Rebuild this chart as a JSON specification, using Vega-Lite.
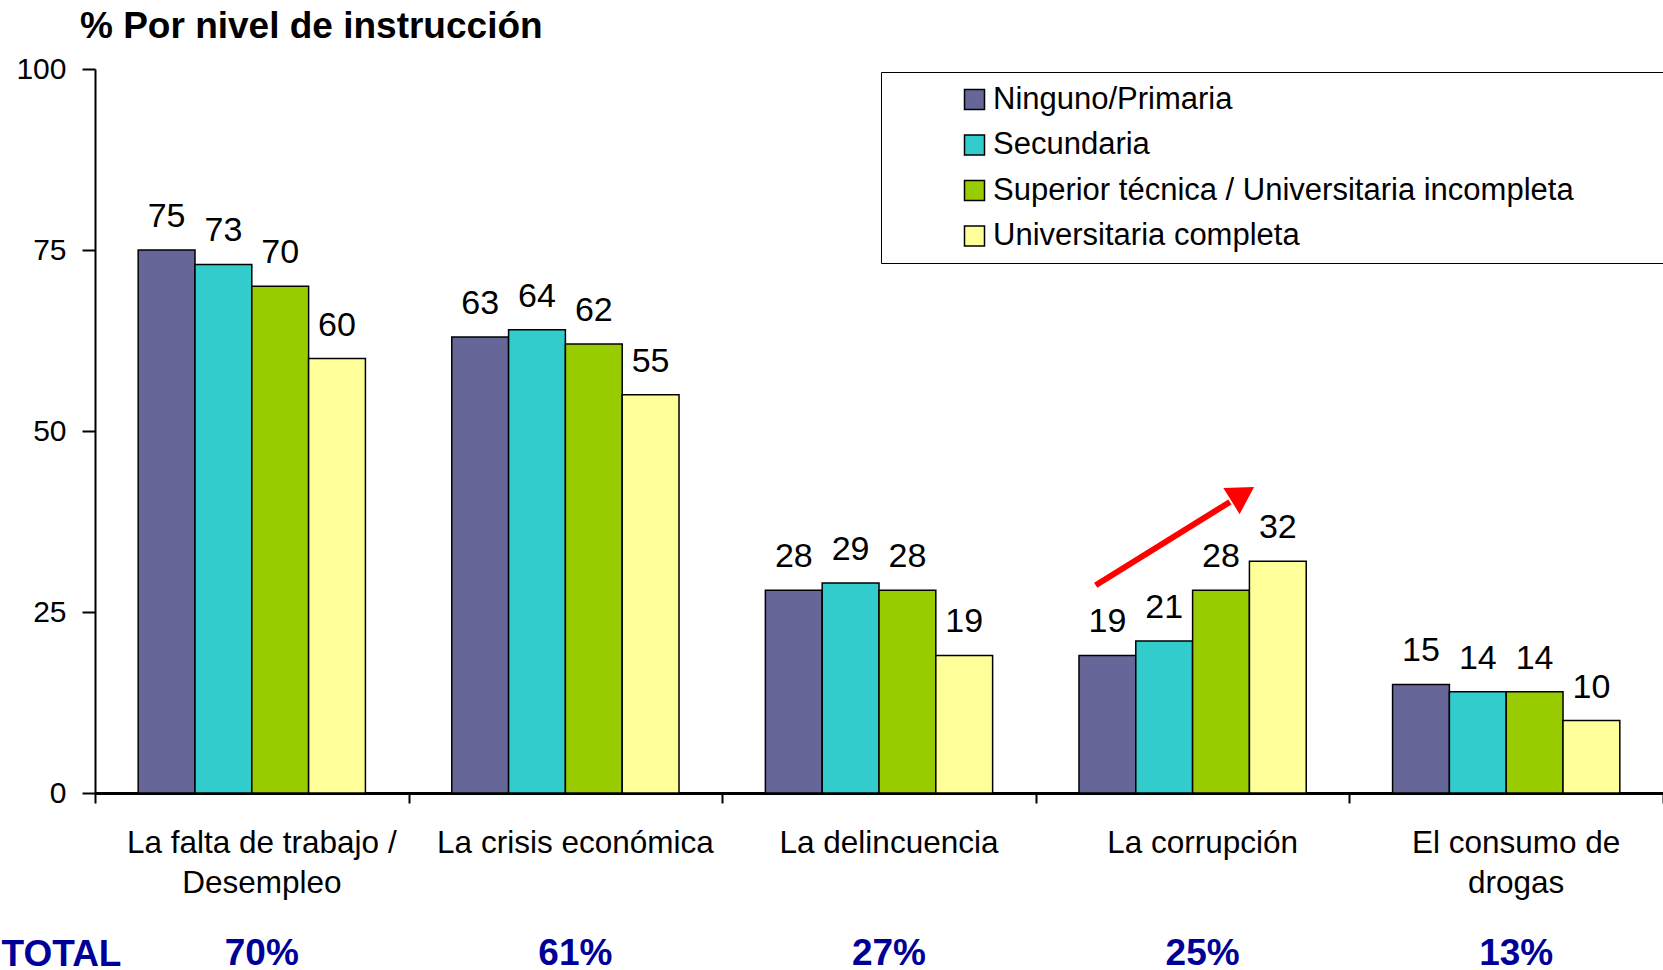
{
  "$schema": "https://vega.github.io/schema/vega-lite/v6.json",
  "width": 1568,
  "height": 724,
  "autosize": "none",
  "padding": {"left": 95, "top": 69, "right": 0, "bottom": 177},
  "background": "white",
  "config": {
    "view": {"stroke": null},
    "font": "Liberation Sans",
    "axis": {"labelFont": "Liberation Sans", "labelColor": "black", "tickColor": "black", "domainColor": "black", "grid": false, "titleFont": "Liberation Sans"},
    "legend": {"labelFont": "Liberation Sans", "titleFont": "Liberation Sans"}
  },
  "datasets": {
    "barras": [
      {"categoria": "La falta de trabajo / Desempleo", "nivel": "Ninguno/Primaria", "valor": 75},
      {"categoria": "La falta de trabajo / Desempleo", "nivel": "Secundaria", "valor": 73},
      {"categoria": "La falta de trabajo / Desempleo", "nivel": "Superior técnica / Universitaria incompleta", "valor": 70},
      {"categoria": "La falta de trabajo / Desempleo", "nivel": "Universitaria completa", "valor": 60},
      {"categoria": "La crisis económica", "nivel": "Ninguno/Primaria", "valor": 63},
      {"categoria": "La crisis económica", "nivel": "Secundaria", "valor": 64},
      {"categoria": "La crisis económica", "nivel": "Superior técnica / Universitaria incompleta", "valor": 62},
      {"categoria": "La crisis económica", "nivel": "Universitaria completa", "valor": 55},
      {"categoria": "La delincuencia", "nivel": "Ninguno/Primaria", "valor": 28},
      {"categoria": "La delincuencia", "nivel": "Secundaria", "valor": 29},
      {"categoria": "La delincuencia", "nivel": "Superior técnica / Universitaria incompleta", "valor": 28},
      {"categoria": "La delincuencia", "nivel": "Universitaria completa", "valor": 19},
      {"categoria": "La corrupción", "nivel": "Ninguno/Primaria", "valor": 19},
      {"categoria": "La corrupción", "nivel": "Secundaria", "valor": 21},
      {"categoria": "La corrupción", "nivel": "Superior técnica / Universitaria incompleta", "valor": 28},
      {"categoria": "La corrupción", "nivel": "Universitaria completa", "valor": 32},
      {"categoria": "El consumo de drogas", "nivel": "Ninguno/Primaria", "valor": 15},
      {"categoria": "El consumo de drogas", "nivel": "Secundaria", "valor": 14},
      {"categoria": "El consumo de drogas", "nivel": "Superior técnica / Universitaria incompleta", "valor": 14},
      {"categoria": "El consumo de drogas", "nivel": "Universitaria completa", "valor": 10}
    ],
    "totales": [
      {"categoria": "La falta de trabajo / Desempleo", "total": "70%"},
      {"categoria": "La crisis económica", "total": "61%"},
      {"categoria": "La delincuencia", "total": "27%"},
      {"categoria": "La corrupción", "total": "25%"},
      {"categoria": "El consumo de drogas", "total": "13%"}
    ],
    "flecha": [
      {"ax": 3.191, "valor": 28.7},
      {"ax": 3.619, "valor": 40.2}
    ],
    "punta": [
      {"ax": 3.66, "valor": 41.3}
    ]
  },
  "layer": [
    {
      "layer": [
        {
          "data": {"name": "barras"},
          "mark": {"type": "bar", "stroke": "black", "strokeWidth": 1.5},
          "encoding": {
            "x": {
              "field": "categoria",
              "type": "nominal",
              "sort": ["La falta de trabajo / Desempleo", "La crisis económica", "La delincuencia", "La corrupción", "El consumo de drogas"],
              "scale": {"paddingInner": 0, "paddingOuter": 0},
              "axis": {
                "title": "TOTAL",
                "titleFontSize": 37,
                "titleFontWeight": "bold",
                "titleColor": "#000099",
                "titleX": -34,
                "titleY": 172,
                "titleAlign": "center",
                "titleAngle": 0,
                "titleBaseline": "alphabetic",
                "labelAngle": 0,
                "labelFontSize": 31.5,
                "labelPadding": 24,
                "labelOffset": 9.5,
                "labelLineHeight": 40,
                "labelLimit": 0,
                "labelBaseline": "top",
                "labelOverlap": false,
                "tickSize": 10,
                "tickWidth": 2,
                "domainWidth": 3,
                "tickBand": "extent",
                "labelExpr": "datum.label == 'La falta de trabajo / Desempleo' ? ['La falta de trabajo /', 'Desempleo'] : datum.label == 'El consumo de drogas' ? ['El consumo de', 'drogas'] : datum.label"
              }
            },
            "xOffset": {
              "field": "nivel",
              "type": "nominal",
              "sort": ["Ninguno/Primaria", "Secundaria", "Superior técnica / Universitaria incompleta", "Universitaria completa"],
              "scale": {"paddingInner": 0, "paddingOuter": 0.76}
            },
            "y": {
              "field": "valor",
              "type": "quantitative",
              "scale": {"domain": [0, 100], "nice": false},
              "axis": {
                "title": "% Por nivel de instrucción",
                "titleFontSize": 37,
                "titleFontWeight": "bold",
                "titleColor": "black",
                "titleAngle": 0,
                "titleAlign": "left",
                "titleBaseline": "alphabetic",
                "titleX": -15.5,
                "titleY": -32,
                "values": [0, 25, 50, 75, 100],
                "labelFontSize": 30,
                "labelPadding": 16,
                "tickSize": 13,
                "tickWidth": 2,
                "domainWidth": 2
              }
            },
            "color": {
              "field": "nivel",
              "type": "nominal",
              "sort": ["Ninguno/Primaria", "Secundaria", "Superior técnica / Universitaria incompleta", "Universitaria completa"],
              "scale": {"range": ["#666699", "#33CCCC", "#99CC00", "#FFFF99"]},
              "legend": {
                "orient": "none",
                "legendX": 786,
                "legendY": 3,
                "title": "\u2800\u2800\u2800\u2800\u2800\u2800\u2800\u2800\u2800\u2800\u2800\u2800\u2800\u2800\u2800",
                "titleOrient": "right",
                "titleFontSize": 12,
                "titlePadding": 5,
                "strokeColor": "black",
                "fillColor": "white",
                "padding": 12,
                "symbolType": "square",
                "symbolSize": 400,
                "symbolStrokeColor": "black",
                "symbolStrokeWidth": 1.5,
                "symbolOpacity": 1,
                "symbolOffset": 66,
                "labelFontSize": 31,
                "labelColor": "black",
                "labelOffset": 3,
                "labelLimit": 0,
                "rowPadding": 13.5
              }
            }
          }
        },
        {
          "data": {"name": "barras"},
          "mark": {"type": "text", "fontSize": 34, "color": "black", "baseline": "alphabetic", "align": "center", "dy": -23},
          "encoding": {
            "x": {"field": "categoria", "type": "nominal", "sort": ["La falta de trabajo / Desempleo", "La crisis económica", "La delincuencia", "La corrupción", "El consumo de drogas"]},
            "xOffset": {"field": "nivel", "type": "nominal", "sort": ["Ninguno/Primaria", "Secundaria", "Superior técnica / Universitaria incompleta", "Universitaria completa"]},
            "y": {"field": "valor", "type": "quantitative", "scale": {"domain": [0, 100], "nice": false}},
            "text": {"field": "valor", "type": "quantitative"}
          }
        },
        {
          "data": {"name": "totales"},
          "mark": {"type": "text", "fontSize": 37, "fontWeight": "bold", "color": "#000099", "baseline": "alphabetic", "align": "center", "dx": 10},
          "encoding": {
            "x": {"field": "categoria", "type": "nominal", "sort": ["La falta de trabajo / Desempleo", "La crisis económica", "La delincuencia", "La corrupción", "El consumo de drogas"]},
            "y": {"datum": -23.8, "type": "quantitative", "scale": {"domain": [0, 100], "nice": false}},
            "text": {"field": "total", "type": "nominal"}
          }
        }
      ]
    },
    {
      "layer": [
        {
          "data": {"name": "flecha"},
          "mark": {"type": "line", "color": "#FF0000", "strokeWidth": 6, "strokeCap": "butt"},
          "encoding": {
            "x": {"field": "ax", "type": "quantitative", "scale": {"domain": [0, 5], "nice": false, "zero": false}, "axis": null},
            "y": {"field": "valor", "type": "quantitative", "scale": {"domain": [0, 100], "nice": false}}
          }
        },
        {
          "data": {"name": "punta"},
          "mark": {"type": "point", "shape": "triangle-up", "size": 950, "angle": 58, "filled": true, "color": "#FF0000", "opacity": 1, "strokeWidth": 0},
          "encoding": {
            "x": {"field": "ax", "type": "quantitative", "scale": {"domain": [0, 5], "nice": false, "zero": false}, "axis": null},
            "y": {"field": "valor", "type": "quantitative", "scale": {"domain": [0, 100], "nice": false}}
          }
        }
      ]
    }
  ],
  "resolve": {"scale": {"x": "independent"}}
}
